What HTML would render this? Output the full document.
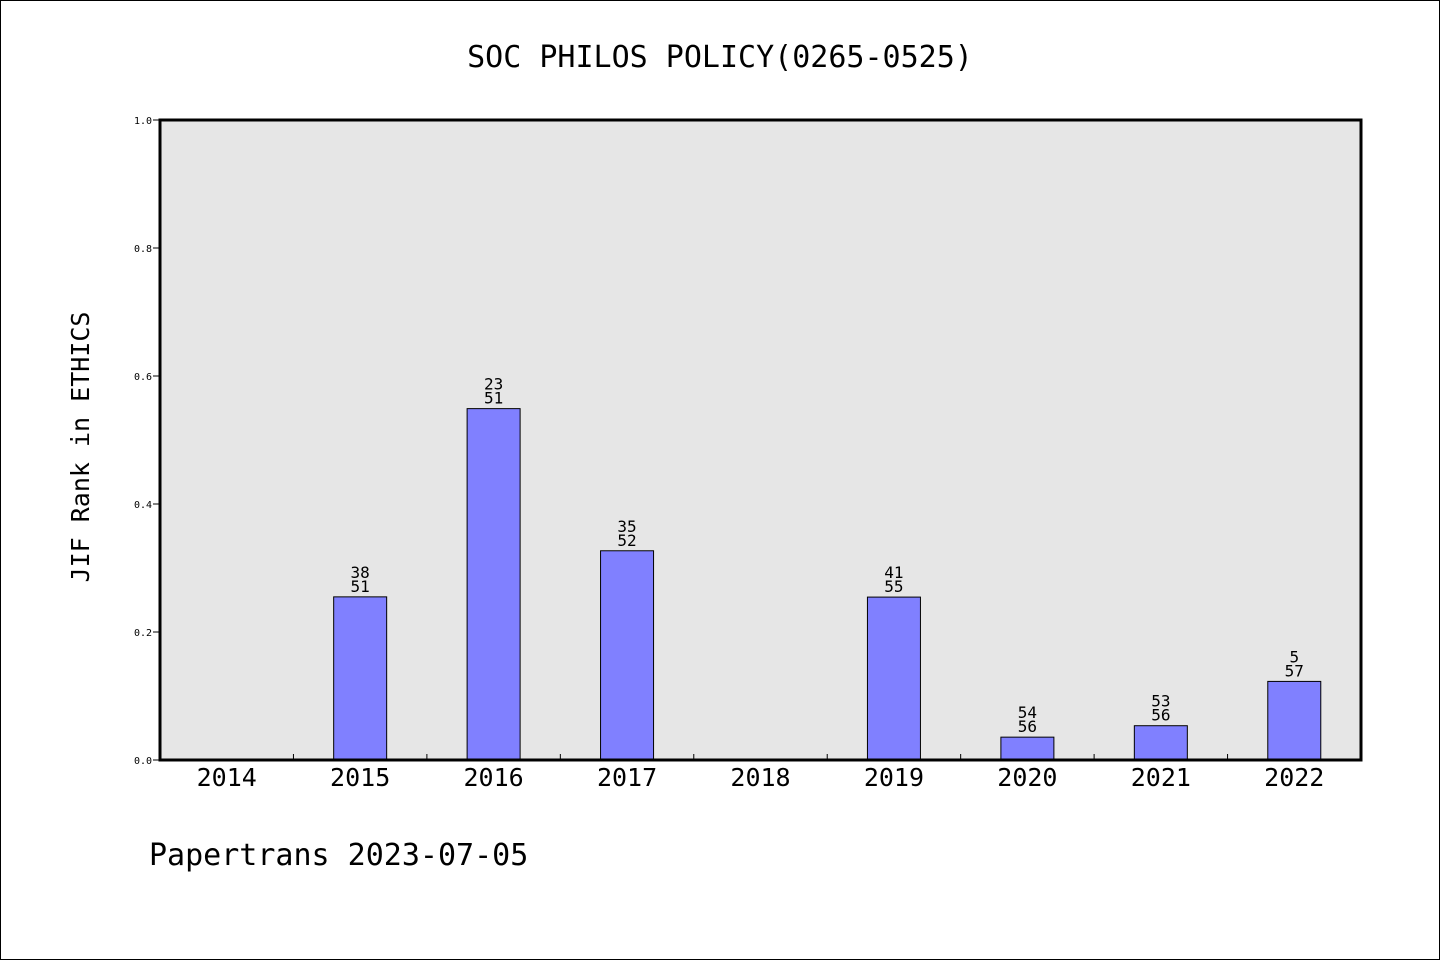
<!DOCTYPE html>
<html><head><meta charset="utf-8"><style>
html,body{margin:0;padding:0;background:#fff;}
#wrap{position:relative;width:1438px;height:958px;border:1px solid #000;overflow:hidden;}
svg text{font-family:"WenQuanYi Zen Hei Mono","DejaVu Sans Mono","Liberation Mono",monospace;fill:#000;}
</style></head><body>
<div id="wrap">
<svg id="chart" width="1438" height="958"></svg>
</div>
<script>
const years = ["2014","2015","2016","2017","2018","2019","2020","2021","2022"];
const ranks = [null,38,23,35,null,41,54,53,50];
const rankLabels = ["","38","23","35","","41","54","53","5"];
const totals = [null,51,51,52,null,55,56,56,57];
const yTicks = [0,0.2,0.4,0.6,0.8,1.0];
const yTickLabels = ["0.0","0.2","0.4","0.6","0.8","1.0"];

const NS="http://www.w3.org/2000/svg";
const svg=document.getElementById('chart');
const L=159,R=1360,T=119,B=759;
const bw=(R-L)/years.length;
function xs(i){return L+bw*(i+0.5);}
function ys(v){return B-(B-T)*v;}
function mk(tag,attrs,txt){const e=document.createElementNS(NS,tag);for(const k in attrs)e.setAttribute(k,attrs[k]);if(txt!==undefined)e.textContent=txt;svg.appendChild(e);return e;}

let e;
e=mk('rect',{x:L,y:T,width:R-L,height:B-T,fill:'#e6e6e6'});


e=mk('text',{x:719,y:66,'font-size':30,'text-anchor':'middle'},'SOC PHILOS POLICY(0265-0525)');


e=mk('text',{x:0,y:0,'font-size':25,'text-anchor':'middle',transform:'translate(88,446) rotate(-90)'},'JIF Rank in ETHICS');


e=mk('text',{x:148,y:864,'font-size':30},'Papertrans 2023-07-05');



yTicks.forEach((v,i)=>{
  const y=ys(v);
  e=mk('line',{x1:L-7,x2:L,y1:y,y2:y,stroke:'#000','stroke-width':1});
  
  
  e=mk('text',{x:151,y:y+4,'font-size':10,'text-anchor':'end'},yTickLabels[i]);
  
  
});

years.forEach((yr,i)=>{
  if(i>0){
    const x=L+bw*i;
    e=mk('line',{x1:x,x2:x,y1:B-6,y2:B,stroke:'#000','stroke-width':1});
    
    
  }
  e=mk('text',{x:xs(i),y:785,'font-size':25,'text-anchor':'middle'},yr);
  
  
  if(ranks[i]!=null){
    const v=1-ranks[i]/totals[i];
    const top=ys(v);
    e=mk('rect',{x:xs(i)-26.5,y:top,width:53,height:B-top,fill:'#8080ff',stroke:'#000','stroke-width':1});
    
    
    e=mk('text',{x:xs(i),y:top-19,'font-size':16,'text-anchor':'middle'},rankLabels[i]);
    
    
    e=mk('text',{x:xs(i),y:top-5,'font-size':16,'text-anchor':'middle'},String(totals[i]));
    
    
  }
});
e=mk('rect',{x:L,y:T,width:R-L,height:B-T,fill:'none',stroke:'#000','stroke-width':3});


</script>
</body></html>
